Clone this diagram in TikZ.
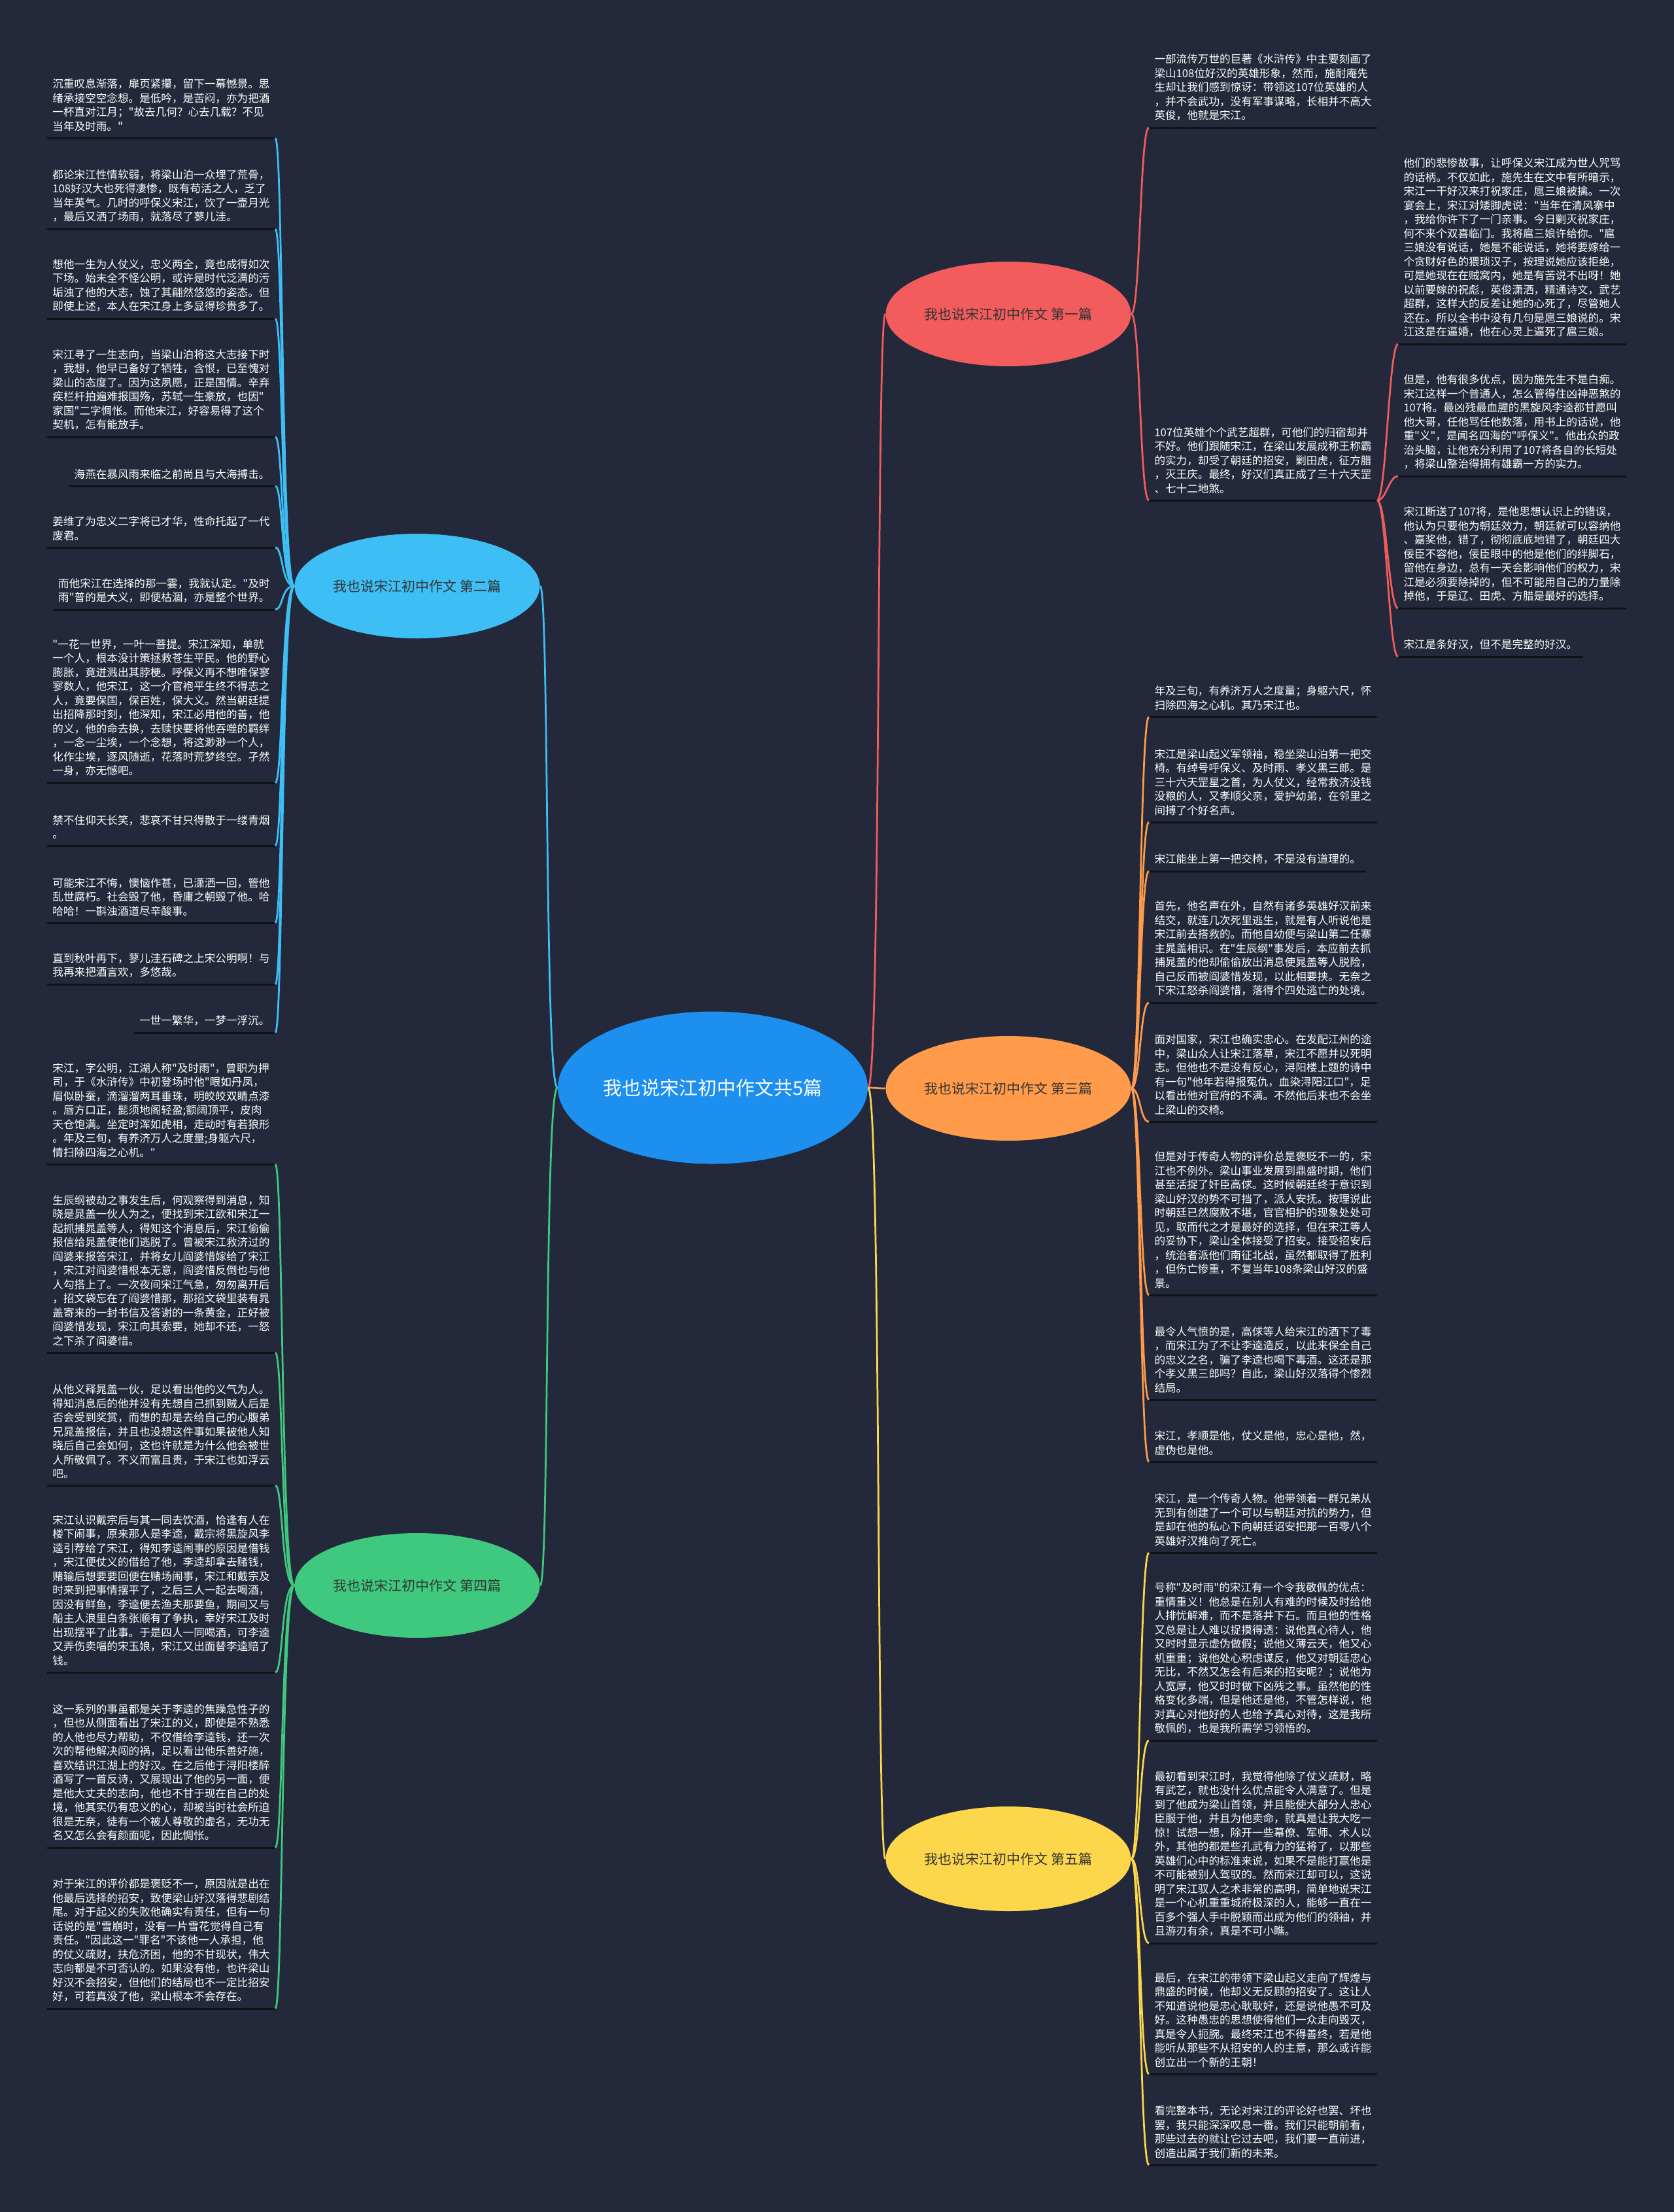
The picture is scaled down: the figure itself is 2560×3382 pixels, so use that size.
\documentclass[tikz,border=0pt]{standalone}
\usepackage{fontspec}
\newfontfamily\cjkfont{Noto Sans CJK SC}
\usetikzlibrary{shapes.geometric}
\definecolor{bgnavy}{HTML}{23283A}
\definecolor{hubblue}{HTML}{1C8FEF}
\definecolor{redone}{HTML}{F25C5C}
\definecolor{skytwo}{HTML}{3DBFF5}
\definecolor{orangethree}{HTML}{FF9B4B}
\definecolor{greenfour}{HTML}{3FC97F}
\definecolor{yellowfive}{HTML}{FCD74B}
\definecolor{inkdark}{HTML}{333333}
\definecolor{ruleblack}{HTML}{111216}

\begin{document}
\begin{tikzpicture}[x=0.4pt,y=-0.4pt,
  hub/.style={ellipse,fill=hubblue,minimum width=185.6pt,minimum height=93.2pt,inner sep=0pt,text=white,font=\cjkfont\fontsize{11.6pt}{14pt}\selectfont},
  topic/.style={ellipse,minimum width=150pt,minimum height=64pt,inner sep=0pt,text=inkdark,font=\cjkfont\fontsize{8.4pt}{10pt}\selectfont},
  leaf/.style={align=left,inner xsep=3.2pt,inner ysep=4pt,text=white,font=\cjkfont\fontsize{6.64pt}{8.6pt}\selectfont,
    append after command={(\tikzlastnode.south west) edge[draw=ruleblack,line width=1.2pt] (\tikzlastnode.south east)}},
  leafL/.style={leaf,anchor=south east},
  leafR/.style={leaf,anchor=south west},
  link/.style={line width=1.1pt}]
\fill[bgnavy] (0,0) rectangle (2560,3382);
\useasboundingbox (0,0) rectangle (2560,3382);

% centre and the five topics
\node[hub] (hub) at (1090,1663) {我也说宋江初中作文共5篇};
\node[topic,fill=redone] (b1) at (1542,480) {我也说宋江初中作文 第一篇};
\node[topic,fill=skytwo] (b2) at (638,896) {我也说宋江初中作文 第二篇};
\node[topic,fill=orangethree] (b3) at (1542,1664) {我也说宋江初中作文 第三篇};
\node[topic,fill=greenfour] (b4) at (638,2424) {我也说宋江初中作文 第四篇};
\node[topic,fill=yellowfive] (b5) at (1542,2842) {我也说宋江初中作文 第五篇};

% 第一篇
\node[leafR] (l1a) at (1757,195) {一部流传万世的巨著《水浒传》中主要刻画了\\梁山108位好汉的英雄形象，然而，施耐庵先\\生却让我们感到惊讶：带领这107位英雄的人\\，并不会武功，没有军事谋略，长相并不高大\\英俊，他就是宋江。};
\node[leafR] (l1b) at (1757,765) {107位英雄个个武艺超群，可他们的归宿却并\\不好。他们跟随宋江，在梁山发展成称王称霸\\的实力，却受了朝廷的招安，剿田虎，征方腊\\，灭王庆。最终，好汉们真正成了三十六天罡\\、七十二地煞。};
\node[leafR] (l1b1) at (2138,526) {他们的悲惨故事，让呼保义宋江成为世人咒骂\\的话柄。不仅如此，施先生在文中有所暗示，\\宋江一干好汉来打祝家庄，扈三娘被擒。一次\\宴会上，宋江对矮脚虎说："当年在清风寨中\\，我给你许下了一门亲事。今日剿灭祝家庄，\\何不来个双喜临门。我将扈三娘许给你。"扈\\三娘没有说话，她是不能说话，她将要嫁给一\\个贪财好色的猥琐汉子，按理说她应该拒绝，\\可是她现在在贼窝内，她是有苦说不出呀！她\\以前要嫁的祝彪，英俊潇洒，精通诗文，武艺\\超群，这样大的反差让她的心死了，尽管她人\\还在。所以全书中没有几句是扈三娘说的。宋\\江这是在逼婚，他在心灵上逼死了扈三娘。};
\node[leafR] (l1b2) at (2138,728) {但是，他有很多优点，因为施先生不是白痴。\\宋江这样一个普通人，怎么管得住凶神恶煞的\\107将。最凶残最血腥的黑旋风李逵都甘愿叫\\他大哥，任他骂任他数落，用书上的话说，他\\重"义"，是闻名四海的"呼保义"。他出众的政\\治头脑，让他充分利用了107将各自的长短处\\，将梁山整治得拥有雄霸一方的实力。};
\node[leafR] (l1b3) at (2138,930) {宋江断送了107将，是他思想认识上的错误，\\他认为只要他为朝廷效力，朝廷就可以容纳他\\、嘉奖他，错了，彻彻底底地错了，朝廷四大\\佞臣不容他，佞臣眼中的他是他们的绊脚石，\\留他在身边，总有一天会影响他们的权力，宋\\江是必须要除掉的，但不可能用自己的力量除\\掉他，于是辽、田虎、方腊是最好的选择。};
\node[leafR] (l1b4) at (2138,1004) {宋江是条好汉，但不是完整的好汉。};

% 第二篇
\node[leafL] (l2a) at (421,211) {沉重叹息渐落，扉页紧攥，留下一幕憾景。思\\绪承接空空念想。是低吟，是苦闷，亦为把酒\\一杯直对江月；"故去几何？心去几载？不见\\当年及时雨。"};
\node[leafL] (l2b) at (421,350) {都论宋江性情软弱，将梁山泊一众埋了荒骨，\\108好汉大也死得凄惨，既有苟活之人，乏了\\当年英气。几时的呼保义宋江，饮了一壶月光\\，最后又洒了场雨，就落尽了蓼儿洼。};
\node[leafL] (l2c) at (421,487) {想他一生为人仗义，忠义两全，竟也成得如次\\下场。始末全不怪公明，或许是时代泛满的污\\垢浊了他的大志，蚀了其翩然悠悠的姿态。但\\即使上述，本人在宋江身上多显得珍贵多了。};
\node[leafL] (l2d) at (421,668) {宋江寻了一生志向，当梁山泊将这大志接下时\\，我想，他早已备好了牺牲，含恨，已至愧对\\梁山的态度了。因为这夙愿，正是国情。辛弃\\疾栏杆拍遍难报国殇，苏轼一生豪放，也因"\\家国"二字惆怅。而他宋江，好容易得了这个\\契机，怎有能放手。};
\node[leafL] (l2e) at (421,743) {海燕在暴风雨来临之前尚且与大海搏击。};
\node[leafL] (l2f) at (421,837) {姜维了为忠义二字将已才华，性命托起了一代\\废君。};
\node[leafL] (l2g) at (421,932) {而他宋江在选择的那一霎，我就认定。"及时\\雨"普的是大义，即便枯涸，亦是整个世界。};
\node[leafL] (l2h) at (421,1197) {"一花一世界，一叶一菩提。宋江深知，单就\\一个人，根本没计策拯救苍生平民。他的野心\\膨胀，竟迸溅出其脖梗。呼保义再不想唯保寥\\寥数人，他宋江，这一介官袍平生终不得志之\\人，竟要保国，保百姓，保大义。然当朝廷提\\出招降那时刻，他深知，宋江必用他的善，他\\的义，他的命去换，去赎快要将他吞噬的羁绊\\，一念一尘埃，一个念想，将这渺渺一个人，\\化作尘埃，逐风随逝，花落时荒梦终空。孑然\\一身，亦无憾吧。};
\node[leafL] (l2i) at (421,1293) {禁不住仰天长笑，悲哀不甘只得散于一缕青烟\\。};
\node[leafL] (l2j) at (421,1411) {可能宋江不悔，懊恼作甚，已潇洒一回，管他\\乱世腐朽。社会毁了他，昏庸之朝毁了他。哈\\哈哈！一斟浊酒道尽辛酸事。};
\node[leafL] (l2k) at (421,1505) {直到秋叶再下，蓼儿洼石碑之上宋公明啊！与\\我再来把酒言欢，多悠哉。};
\node[leafL] (l2l) at (421,1579) {一世一繁华，一梦一浮沉。};

% 第三篇
\node[leafR] (l3a) at (1757,1096) {年及三旬，有养济万人之度量；身躯六尺，怀\\扫除四海之心机。其乃宋江也。};
\node[leafR] (l3b) at (1757,1257) {宋江是梁山起义军领袖，稳坐梁山泊第一把交\\椅。有绰号呼保义、及时雨、孝义黑三郎。是\\三十六天罡星之首，为人仗义，经常救济没钱\\没粮的人，又孝顺父亲，爱护幼弟，在邻里之\\间搏了个好名声。};
\node[leafR] (l3c) at (1757,1332) {宋江能坐上第一把交椅，不是没有道理的。};
\node[leafR] (l3d) at (1757,1533) {首先，他名声在外，自然有诸多英雄好汉前来\\结交，就连几次死里逃生，就是有人听说他是\\宋江前去搭救的。而他自幼便与梁山第二任寨\\主晁盖相识。在"生辰纲"事发后，本应前去抓\\捕晁盖的他却偷偷放出消息使晁盖等人脱险，\\自己反而被阎婆惜发现，以此相要挟。无奈之\\下宋江怒杀阎婆惜，落得个四处逃亡的处境。};
\node[leafR] (l3e) at (1757,1715) {面对国家，宋江也确实忠心。在发配江州的途\\中，梁山众人让宋江落草，宋江不愿并以死明\\志。但他也不是没有反心，浔阳楼上题的诗中\\有一句"他年若得报冤仇，血染浔阳江口"，足\\以看出他对官府的不满。不然他后来也不会坐\\上梁山的交椅。};
\node[leafR] (l3f) at (1757,1980) {但是对于传奇人物的评价总是褒贬不一的，宋\\江也不例外。梁山事业发展到鼎盛时期，他们\\甚至活捉了奸臣高俅。这时候朝廷终于意识到\\梁山好汉的势不可挡了，派人安抚。按理说此\\时朝廷已然腐败不堪，官官相护的现象处处可\\见，取而代之才是最好的选择，但在宋江等人\\的妥协下，梁山全体接受了招安。接受招安后\\，统治者派他们南征北战，虽然都取得了胜利\\，但伤亡惨重，不复当年108条梁山好汉的盛\\景。};
\node[leafR] (l3g) at (1757,2140) {最令人气愤的是，高俅等人给宋江的酒下了毒\\，而宋江为了不让李逵造反，以此来保全自己\\的忠义之名，骗了李逵也喝下毒酒。这还是那\\个孝义黑三郎吗？自此，梁山好汉落得个惨烈\\结局。};
\node[leafR] (l3h) at (1757,2235) {宋江，孝顺是他，仗义是他，忠心是他，然，\\虚伪也是他。};

% 第四篇
\node[leafL] (l4a) at (421,1780) {宋江，字公明，江湖人称"及时雨"，曾职为押\\司，于《水浒传》中初登场时他"眼如丹凤，\\眉似卧蚕，滴溜溜两耳垂珠，明皎皎双睛点漆\\。唇方口正，髭须地阁轻盈;额阔顶平，皮肉\\天仓饱满。坐定时浑如虎相，走动时有若狼形\\。年及三旬，有养济万人之度量;身躯六尺，\\情扫除四海之心机。"};
\node[leafL] (l4b) at (421,2068) {生辰纲被劫之事发生后，何观察得到消息，知\\晓是晁盖一伙人为之，便找到宋江欲和宋江一\\起抓捕晁盖等人，得知这个消息后，宋江偷偷\\报信给晁盖使他们逃脱了。曾被宋江救济过的\\阎婆来报答宋江，并将女儿阎婆惜嫁给了宋江\\，宋江对阎婆惜根本无意，阎婆惜反倒也与他\\人勾搭上了。一次夜间宋江气急，匆匆离开后\\，招文袋忘在了阎婆惜那，那招文袋里装有晁\\盖寄来的一封书信及答谢的一条黄金，正好被\\阎婆惜发现，宋江向其索要，她却不还，一怒\\之下杀了阎婆惜。};
\node[leafL] (l4c) at (421,2271) {从他义释晁盖一伙，足以看出他的义气为人。\\得知消息后的他并没有先想自己抓到贼人后是\\否会受到奖赏，而想的却是去给自己的心腹弟\\兄晁盖报信，并且也没想这件事如果被他人知\\晓后自己会如何，这也许就是为什么他会被世\\人所敬佩了。不义而富且贵，于宋江也如浮云\\吧。};
\node[leafL] (l4d) at (421,2557) {宋江认识戴宗后与其一同去饮酒，恰逢有人在\\楼下闹事，原来那人是李逵，戴宗将黑旋风李\\逵引荐给了宋江，得知李逵闹事的原因是借钱\\，宋江便仗义的借给了他，李逵却拿去赌钱，\\赌输后想要要回便在赌场闹事，宋江和戴宗及\\时来到把事情摆平了，之后三人一起去喝酒，\\因没有鲜鱼，李逵便去渔夫那要鱼，期间又与\\船主人浪里白条张顺有了争执，幸好宋江及时\\出现摆平了此事。于是四人一同喝酒，可李逵\\又弄伤卖唱的宋玉娘，宋江又出面替李逵赔了\\钱。};
\node[leafL] (l4e) at (421,2825) {这一系列的事虽都是关于李逵的焦躁急性子的\\，但也从侧面看出了宋江的义，即使是不熟悉\\的人他也尽力帮助，不仅借给李逵钱，还一次\\次的帮他解决闯的祸，足以看出他乐善好施，\\喜欢结识江湖上的好汉。在之后他于浔阳楼醉\\酒写了一首反诗，又展现出了他的另一面，便\\是他大丈夫的志向，他也不甘于现在自己的处\\境，他其实仍有忠义的心，却被当时社会所迫\\很是无奈，徒有一个被人尊敬的虚名，无功无\\名又怎么会有颜面呢，因此惆怅。};
\node[leafL] (l4f) at (421,3071) {对于宋江的评价都是褒贬不一，原因就是出在\\他最后选择的招安，致使梁山好汉落得悲剧结\\尾。对于起义的失败他确实有责任，但有一句\\话说的是"雪崩时，没有一片雪花觉得自己有\\责任。"因此这一"罪名"不该他一人承担，他\\的仗义疏财，扶危济困，他的不甘现状，伟大\\志向都是不可否认的。如果没有他，也许梁山\\好汉不会招安，但他们的结局也不一定比招安\\好，可若真没了他，梁山根本不会存在。};

% 第五篇
\node[leafR] (l5a) at (1757,2374) {宋江，是一个传奇人物。他带领着一群兄弟从\\无到有创建了一个可以与朝廷对抗的势力，但\\是却在他的私心下向朝廷诏安把那一百零八个\\英雄好汉推向了死亡。};
\node[leafR] (l5b) at (1757,2661) {号称"及时雨"的宋江有一个令我敬佩的优点：\\重情重义！他总是在别人有难的时候及时给他\\人排忧解难，而不是落井下石。而且他的性格\\又总是让人难以捉摸得透：说他真心待人，他\\又时时显示虚伪做假；说他义薄云天，他又心\\机重重；说他处心积虑谋反，他又对朝廷忠心\\无比，不然又怎会有后来的招安呢？；说他为\\人宽厚，他又时时做下凶残之事。虽然他的性\\格变化多端，但是他还是他，不管怎样说，他\\对真心对他好的人也给予真心对待，这是我所\\敬佩的，也是我所需学习领悟的。};
\node[leafR] (l5c) at (1757,2971) {最初看到宋江时，我觉得他除了仗义疏财，略\\有武艺，就也没什么优点能令人满意了。但是\\到了他成为梁山首领，并且能使大部分人忠心\\臣服于他，并且为他卖命，就真是让我大吃一\\惊！试想一想，除开一些幕僚、军师、术人以\\外，其他的都是些孔武有力的猛将了，以那些\\英雄们心中的标准来说，如果不是能打赢他是\\不可能被别人驾驭的。然而宋江却可以，这说\\明了宋江驭人之术非常的高明，简单地说宋江\\是一个心机重重城府极深的人，能够一直在一\\百多个强人手中脱颖而出成为他们的领袖，并\\且游刃有余，真是不可小瞧。};
\node[leafR] (l5d) at (1757,3171) {最后，在宋江的带领下梁山起义走向了辉煌与\\鼎盛的时候，他却义无反顾的招安了。这让人\\不知道说他是忠心耿耿好，还是说他愚不可及\\好。这种愚忠的思想使得他们一众走向毁灭，\\真是令人扼腕。最终宋江也不得善终，若是他\\能听从那些不从招安的人的主意，那么或许能\\创立出一个新的王朝！};
\node[leafR] (l5e) at (1757,3310) {看完整本书，无论对宋江的评论好也罢、坏也\\罢，我只能深深叹息一番。我们只能朝前看，\\那些过去的就让它过去吧，我们要一直前进，\\创造出属于我们新的未来。};

% centre to topics
\draw[link,redone] (hub.east) .. controls +(20,0) and +(-14,0) .. (b1.west);
\draw[link,orangethree] (hub.east) .. controls +(12,0) and +(-12,0) .. (b3.west);
\draw[link,yellowfive] (hub.east) .. controls +(20,0) and +(-14,0) .. (b5.west);
\draw[link,skytwo] (hub.west) .. controls +(-20,0) and +(14,0) .. (b2.east);
\draw[link,greenfour] (hub.west) .. controls +(-20,0) and +(14,0) .. (b4.east);

% topic to leaves
\draw[link,redone] (b1.east) .. controls +(14,0) and +(-14,0) .. (l1a.south west);
\draw[link,redone] (b1.east) .. controls +(14,0) and +(-14,0) .. (l1b.south west);
\draw[link,redone] (l1b.south east) .. controls +(14,0) and +(-14,0) .. (l1b1.south west);
\draw[link,redone] (l1b.south east) .. controls +(14,0) and +(-14,0) .. (l1b2.south west);
\draw[link,redone] (l1b.south east) .. controls +(14,0) and +(-14,0) .. (l1b3.south west);
\draw[link,redone] (l1b.south east) .. controls +(14,0) and +(-14,0) .. (l1b4.south west);

\draw[link,skytwo] (b2.west) .. controls +(-20,0) and +(12,0) .. (l2a.south east);
\draw[link,skytwo] (b2.west) .. controls +(-20,0) and +(12,0) .. (l2b.south east);
\draw[link,skytwo] (b2.west) .. controls +(-20,0) and +(12,0) .. (l2c.south east);
\draw[link,skytwo] (b2.west) .. controls +(-20,0) and +(12,0) .. (l2d.south east);
\draw[link,skytwo] (b2.west) .. controls +(-20,0) and +(12,0) .. (l2e.south east);
\draw[link,skytwo] (b2.west) .. controls +(-20,0) and +(12,0) .. (l2f.south east);
\draw[link,skytwo] (b2.west) .. controls +(-20,0) and +(12,0) .. (l2g.south east);
\draw[link,skytwo] (b2.west) .. controls +(-20,0) and +(12,0) .. (l2h.south east);
\draw[link,skytwo] (b2.west) .. controls +(-20,0) and +(12,0) .. (l2i.south east);
\draw[link,skytwo] (b2.west) .. controls +(-20,0) and +(12,0) .. (l2j.south east);
\draw[link,skytwo] (b2.west) .. controls +(-20,0) and +(12,0) .. (l2k.south east);
\draw[link,skytwo] (b2.west) .. controls +(-20,0) and +(12,0) .. (l2l.south east);

\draw[link,orangethree] (b3.east) .. controls +(14,0) and +(-14,0) .. (l3a.south west);
\draw[link,orangethree] (b3.east) .. controls +(14,0) and +(-14,0) .. (l3b.south west);
\draw[link,orangethree] (b3.east) .. controls +(14,0) and +(-14,0) .. (l3c.south west);
\draw[link,orangethree] (b3.east) .. controls +(14,0) and +(-14,0) .. (l3d.south west);
\draw[link,orangethree] (b3.east) .. controls +(14,0) and +(-14,0) .. (l3e.south west);
\draw[link,orangethree] (b3.east) .. controls +(14,0) and +(-14,0) .. (l3f.south west);
\draw[link,orangethree] (b3.east) .. controls +(14,0) and +(-14,0) .. (l3g.south west);
\draw[link,orangethree] (b3.east) .. controls +(14,0) and +(-14,0) .. (l3h.south west);

\draw[link,greenfour] (b4.west) .. controls +(-20,0) and +(12,0) .. (l4a.south east);
\draw[link,greenfour] (b4.west) .. controls +(-20,0) and +(12,0) .. (l4b.south east);
\draw[link,greenfour] (b4.west) .. controls +(-20,0) and +(12,0) .. (l4c.south east);
\draw[link,greenfour] (b4.west) .. controls +(-20,0) and +(12,0) .. (l4d.south east);
\draw[link,greenfour] (b4.west) .. controls +(-20,0) and +(12,0) .. (l4e.south east);
\draw[link,greenfour] (b4.west) .. controls +(-20,0) and +(12,0) .. (l4f.south east);

\draw[link,yellowfive] (b5.east) .. controls +(14,0) and +(-14,0) .. (l5a.south west);
\draw[link,yellowfive] (b5.east) .. controls +(14,0) and +(-14,0) .. (l5b.south west);
\draw[link,yellowfive] (b5.east) .. controls +(14,0) and +(-14,0) .. (l5c.south west);
\draw[link,yellowfive] (b5.east) .. controls +(14,0) and +(-14,0) .. (l5d.south west);
\draw[link,yellowfive] (b5.east) .. controls +(14,0) and +(-14,0) .. (l5e.south west);
\end{tikzpicture}
\end{document}
